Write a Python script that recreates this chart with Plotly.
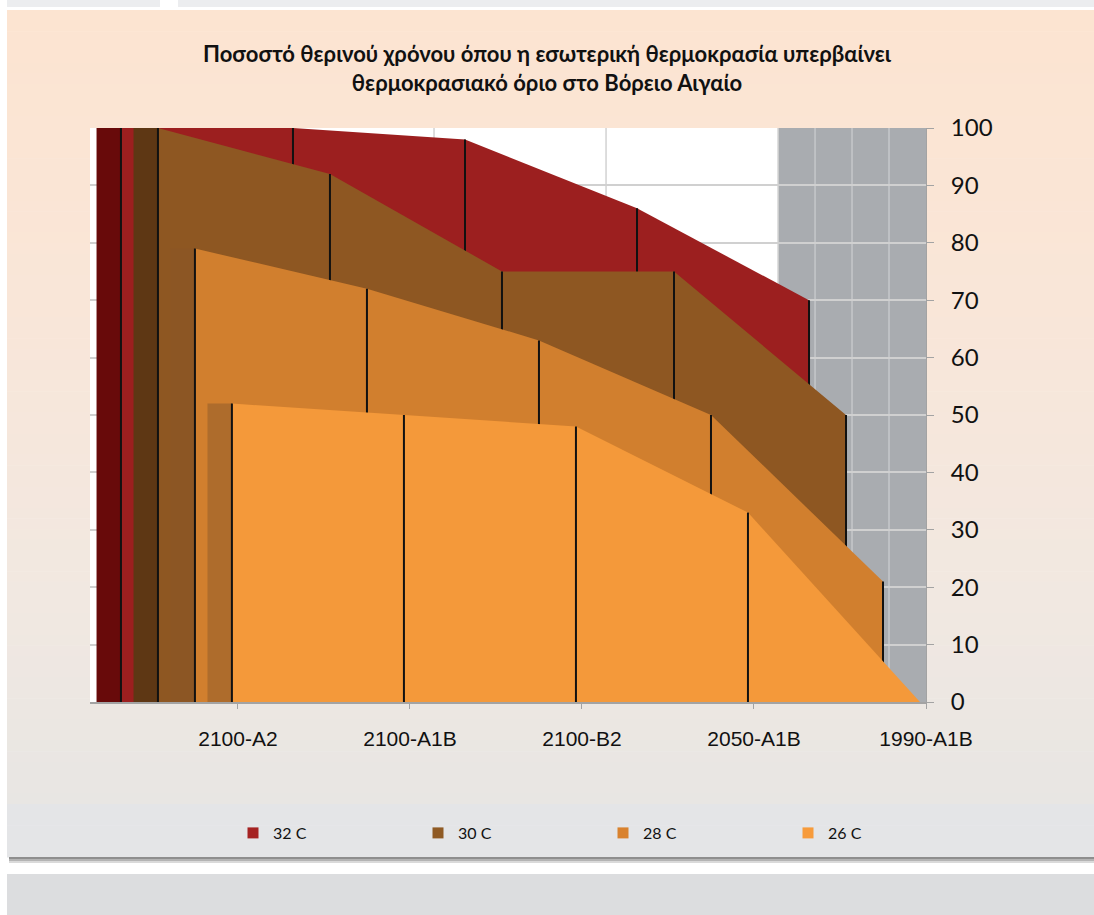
import plotly.graph_objects as go

# data
categories = ["2100-A2", "2100-A1B", "2100-B2", "2050-A1B", "1990-A1B"]
series_names = ["32 C", "30 C", "28 C", "26 C"]
t32 = [100, 100, 98, 86, 70]
t30 = [100, 92, 75, 75, 50]
t28 = [79, 72, 63, 50, 21]
t26 = [52, 50, 48, 33, 0]
y_ticks = [0, 10, 20, 30, 40, 50, 60, 70, 80, 90, 100]

title = ("<b>Ποσοστό θερινού χρόνου όπου η εσωτερική θερμοκρασία υπερβαίνει<br>"
         "θερμοκρασιακό όριο στο Βόρειο Αιγαίο</b>")

# styling (back series first)
front_col = ["#9C1F1F", "#8E5722", "#D17F2E", "#F4993A"]
side_col = ["#680A0A", "#5E3714", "#8C5624", "#AE6C2C"]
legend_col = ["#A52222", "#8F5A24", "#D9822E", "#F79B3B"]
values = [t32, t30, t28, t26]

W, H = 1094, 915
L, R, T, B = 90, 168, 128, 213
GAP, STEP, SIDE = 0.035, 0.215, 0.142   # 3D fake: depth offsets in category units
DEPTH = 4 * STEP
XMIN, XMAX = -0.86, 4.0


def px(x):
    return (x - L) / (W - L - R)


def py(y):
    return (H - B - y) / (H - T - B)


def mix(c1, c2, t):
    a = [int(c1[i:i + 2], 16) for i in (1, 3, 5)]
    b = [int(c2[i:i + 2], 16) for i in (1, 3, 5)]
    return "#" + "".join("%02x" % round(a[i] + (b[i] - a[i]) * t) for i in range(3))


shapes = []

# top strip boxes
shapes.append(dict(type="rect", xref="paper", yref="paper", x0=px(7), x1=px(160), y0=py(0), y1=py(7),
                   fillcolor="#ECEDEF", line_width=0, layer="below"))
shapes.append(dict(type="rect", xref="paper", yref="paper", x0=px(178), x1=px(W), y0=py(0), y1=py(7),
                   fillcolor="#ECEDEF", line_width=0, layer="below"))

# card gradient
stops = [(10, "#FCE4D1"), (300, "#F9E6D8"), (600, "#F1E8E1"), (800, "#E8E6E3"),
         (810, "#E4E5E7"), (857, "#E4E5E7")]
n = 80
top, bot = 10, 857
for i in range(n):
    y0 = top + (bot - top) * i / n
    y1 = top + (bot - top) * (i + 1) / n
    ym = (y0 + y1) / 2
    for j in range(len(stops) - 1):
        if stops[j][0] <= ym <= stops[j + 1][0]:
            t = (ym - stops[j][0]) / (stops[j + 1][0] - stops[j][0])
            col = mix(stops[j][1], stops[j + 1][1], t)
            break
    shapes.append(dict(type="rect", xref="paper", yref="paper", x0=px(7), x1=px(W),
                       y0=py(y0), y1=py(y1 + 0.6), fillcolor=col, line_width=0, layer="below"))

# shadow under the card and the lower box
for y0, y1, c in [(857, 859, "#8E8E8E"), (859, 861, "#B4B4B4"), (861, 863, "#DADADA")]:
    shapes.append(dict(type="rect", xref="paper", yref="paper", x0=px(9), x1=px(W), y0=py(y0), y1=py(y1),
                       fillcolor=c, line_width=0, layer="below"))
shapes.append(dict(type="rect", xref="paper", yref="paper", x0=px(7), x1=px(W), y0=py(874), y1=py(H),
                   fillcolor="#DCDDDF", line_width=0, layer="below"))

# walls
wall_right = 4 - DEPTH
shapes.append(dict(type="rect", xref="x", yref="y", x0=XMIN, x1=wall_right, y0=0, y1=100,
                   fillcolor="#FFFFFF", line_width=0, layer="below"))
shapes.append(dict(type="rect", xref="x", yref="y", x0=wall_right, x1=XMAX, y0=0, y1=100,
                   fillcolor="#A9ACB0", line_width=0, layer="below"))
for k in range(len(categories)):
    xv = k - DEPTH
    if xv > XMIN:
        shapes.append(dict(type="line", xref="x", yref="y", x0=xv, x1=xv, y0=0, y1=100,
                           line=dict(color="#D2D2D2", width=1.5), layer="below"))
for j in range(1, 4):
    xv = wall_right + j * STEP
    shapes.append(dict(type="line", xref="x", yref="y", x0=xv, x1=xv, y0=0, y1=100,
                       line=dict(color="#C6C8CB", width=1.5), layer="below"))

fig = go.Figure()
nser = len(values)
for s, vals in enumerate(values):
    depth_k = nser - 1 - s
    off = -(GAP + depth_k * STEP)
    xs = [i + off for i in range(len(categories))]
    # side face (end cap of the 3D area)
    fig.add_trace(go.Scatter(
        x=[xs[0] - SIDE, xs[0], xs[0], xs[0] - SIDE, xs[0] - SIDE],
        y=[0, 0, vals[0], vals[0], 0], fill="toself", fillcolor=side_col[s],
        mode="lines", line=dict(width=0), showlegend=False, hoverinfo="skip"))
    # front face
    fig.add_trace(go.Scatter(
        x=xs + [xs[-1], xs[0]], y=vals + [0, 0], fill="toself", fillcolor=front_col[s],
        mode="lines", line=dict(width=0), showlegend=False, hoverinfo="skip"))
    # edge lines at each point
    lx, ly = [], []
    for xv, v in zip(xs, vals):
        lx += [xv, xv, None]
        ly += [0, v, None]
    fig.add_trace(go.Scatter(x=lx, y=ly, mode="lines", line=dict(color="#111111", width=2),
                             showlegend=False, hoverinfo="skip"))

for s, name in enumerate(series_names):
    fig.add_trace(go.Scatter(x=[None], y=[None], mode="markers", name=name,
                             marker=dict(symbol="square", size=11, color=legend_col[s])))

fig.update_layout(
    width=W, height=H,
    margin=dict(l=L, r=R, t=T, b=B),
    paper_bgcolor="#FFFFFF", plot_bgcolor="rgba(0,0,0,0)",
    shapes=shapes,
    title=dict(text=title, x=547 / W, xref="container", xanchor="center", y=1 - 62 / H, yanchor="middle",
               font=dict(family="Lato", size=22, color="#111111")),
    showlegend=True,
    legend=dict(orientation="h", x=px(233), y=py(833), xanchor="left", yanchor="middle",
                entrywidth=140, entrywidthmode="pixels", bgcolor="rgba(0,0,0,0)",
                font=dict(family="Lato", size=16, color="#111111"), traceorder="normal"),
)
fig.update_xaxes(range=[XMIN, XMAX], tickvals=list(range(len(categories))), ticktext=categories,
                 showgrid=False, zeroline=False, showline=True, linecolor="#A3A3A3", linewidth=1.5,
                 ticks="outside", ticklen=5, tickcolor="#A3A3A3",
                 tickfont=dict(family="Liberation Sans", size=21, color="#111111"),
                 ticklabelstandoff=12)
fig.update_yaxes(range=[0, 100], tickvals=y_ticks, side="right", showgrid=True, gridcolor="#D0D0D0",
                 gridwidth=1.5, zeroline=False, showline=True, linecolor="#A3A3A3", linewidth=1,
                 ticks="outside", ticklen=7, tickcolor="#A3A3A3",
                 tickfont=dict(family="Lato", size=24, color="#111111"), ticklabelstandoff=12)

fig.write_html("out.html", config={"displayModeBar": False},
               post_script="document.body.style.margin='0';")
